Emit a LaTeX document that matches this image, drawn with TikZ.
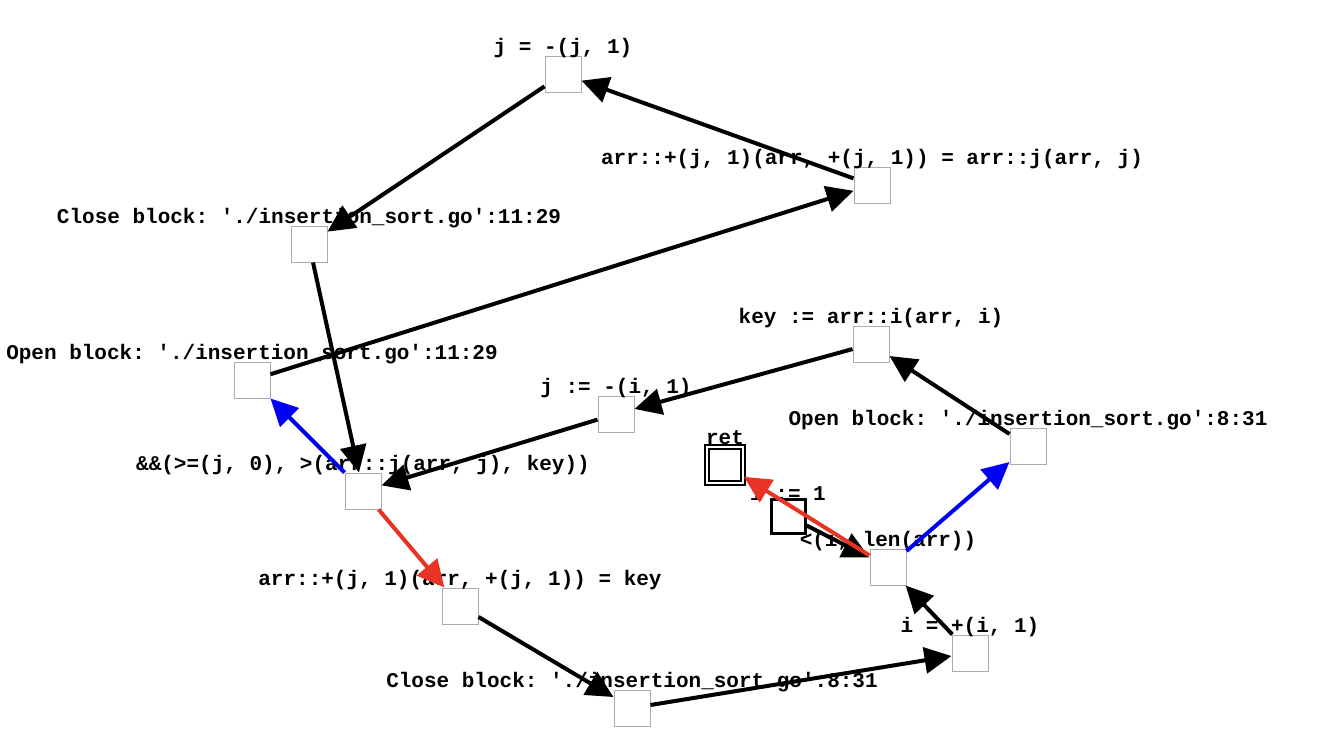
\documentclass[tikz,border=0pt]{standalone}
\usepackage{fontspec}
\setmonofont{Liberation Mono}
\usetikzlibrary{arrows.meta}

\definecolor{edgered}{RGB}{232,52,36}
\definecolor{edgeblue}{RGB}{0,0,245}

\tikzset{
  blk/.style={draw=gray!65, line width=1pt, fill=white, minimum size=36pt, inner sep=0pt},
  entry/.style={draw=black, line width=3pt, fill=white, minimum size=34pt, inner sep=0pt},
  exit/.style={draw=black, double=white, double distance=2.5pt, line width=1.8pt, minimum size=36pt, inner sep=0pt},
  lbl/.style={font=\ttfamily\bfseries\fontsize{21}{24}\selectfont, inner sep=0pt},
  flow/.style={line width=4pt, -{Triangle[length=27pt,width=26pt]}},
  yes/.style={flow, draw=edgeblue, -{Triangle[length=27pt,width=26pt,fill=edgeblue]}},
  no/.style={flow, draw=edgered, -{Triangle[length=27pt,width=26pt,fill=edgered]}}
}

\begin{document}
\begin{tikzpicture}[x=1pt,y=-1pt]
\useasboundingbox (0,0) rectangle (1330,750);

\node[blk] (jdec) at (563,74) {};
\node[blk] (shift) at (872,185) {};
\node[blk] (closeinner) at (309,244) {};
\node[blk] (openinner) at (252,380) {};
\node[blk] (key) at (871,344) {};
\node[blk] (jinit) at (616,414) {};
\node[blk] (openouter) at (1028,446) {};
\node[blk] (cond) at (363,491) {};
\node[exit] (ret) at (725,465) {};
\node[entry] (iinit) at (788,516) {};
\node[blk] (loop) at (888,567) {};
\node[blk] (store) at (460,606) {};
\node[blk] (iinc) at (970,653) {};
\node[blk] (closeouter) at (632,708) {};

\node[lbl, anchor=south] at ([yshift=-3pt]jdec.north) {j = -(j, 1)};
\node[lbl, anchor=south] at ([yshift=-3pt]shift.north) {arr::+(j, 1)(arr, +(j, 1)) = arr::j(arr, j)};
\node[lbl, anchor=south] at ([yshift=-3pt]closeinner.north) {Close block: './insertion\_sort.go':11:29};
\node[lbl, anchor=south] at ([yshift=-3pt]openinner.north) {Open block: './insertion\_sort.go':11:29};
\node[lbl, anchor=south] at ([yshift=-3pt]key.north) {key := arr::i(arr, i)};
\node[lbl, anchor=south] at ([yshift=-3pt]jinit.north) {j := -(i, 1)};
\node[lbl, anchor=south] at ([yshift=-3pt]openouter.north) {Open block: './insertion\_sort.go':8:31};
\node[lbl, anchor=south] at ([yshift=-3pt]cond.north) {\&\&(>=(j, 0), >(arr::j(arr, j), key))};
\node[lbl, anchor=south] at ([yshift=1pt]ret.north) {ret};
\node[lbl, anchor=south] at ([yshift=-3pt]iinit.north) {i := 1};
\node[lbl, anchor=south] at ([yshift=-3pt]loop.north) {<(i, len(arr))};
\node[lbl, anchor=south] at ([yshift=-3pt]store.north) {arr::+(j, 1)(arr, +(j, 1)) = key};
\node[lbl, anchor=south] at ([yshift=-3pt]iinc.north) {i = +(i, 1)};
\node[lbl, anchor=south] at ([yshift=-3pt]closeouter.north) {Close block: './insertion\_sort.go':8:31};

% outer loop
\draw[flow] (iinit) -- (loop);
\draw[yes] (loop) -- (openouter);
\draw[no] (loop) -- (ret);
\draw[flow] (openouter) -- (key);
\draw[flow] (key) -- (jinit);
\draw[flow] (jinit) -- (cond);
% inner loop
\draw[yes] (cond) -- (openinner);
\draw[flow] (openinner) -- (shift);
\draw[flow] (shift) -- (jdec);
\draw[flow] (jdec) -- (closeinner);
\draw[flow] (closeinner) -- (cond);
\draw[no] (cond) -- (store);
\draw[flow] (store) -- (closeouter);
\draw[flow] (closeouter) -- (iinc);
\draw[flow] (iinc) -- (loop);

\end{tikzpicture}
\end{document}
